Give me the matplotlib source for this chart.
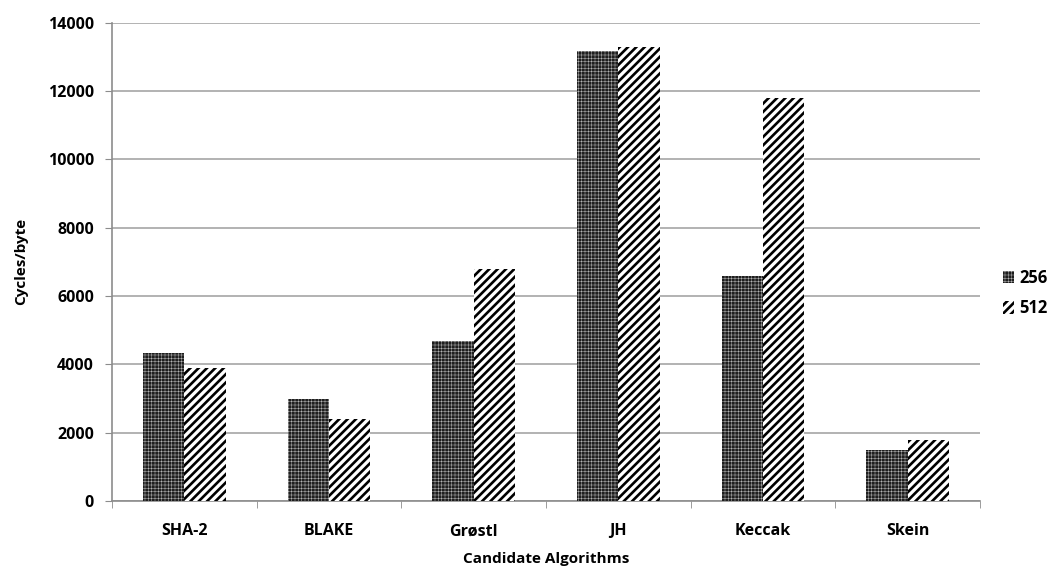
import matplotlib
matplotlib.use('Agg')
import matplotlib.pyplot as plt
import numpy as np
from matplotlib.patches import Patch

algorithms = ['SHA-2', 'BLAKE', 'Grøstl', 'JH', 'Keccak', 'Skein']
cycles_256 = [4330, 2990, 4680, 13170, 6600, 1490]
cycles_512 = [3890, 2400, 6800, 13290, 11790, 1800]
y_ticks = [0, 2000, 4000, 6000, 8000, 10000, 12000, 14000]

plt.rcParams['font.family'] = ['Open Sans', 'DejaVu Sans']
plt.rcParams['font.weight'] = 'bold'

fig = plt.figure(figsize=(10.64, 5.69), dpi=100)
ax = fig.add_axes([0.1053, 0.1195, 0.8158, 0.8405])

x = np.arange(len(algorithms))
w = 0.285

dot_style = dict(facecolor='#1e1e1e', edgecolor='#d0d0d0', hatch='+++++', linewidth=0)
stripe_style = dict(facecolor='white', edgecolor='black', hatch='////', linewidth=0)
dot_hlw, stripe_hlw = 0.3, 1.9


def set_hlw(patches, lw):
    for p in patches:
        if hasattr(p, 'set_hatch_linewidth'):
            p.set_hatch_linewidth(lw)


# dark dotted bars for 256
b1 = ax.bar(x - w / 2, cycles_256, w, zorder=3, **dot_style)
set_hlw(b1, dot_hlw)

# diagonal striped bars for 512
b2 = ax.bar(x + w / 2, cycles_512, w, zorder=3, **stripe_style)
set_hlw(b2, stripe_hlw)

ax.set_xlim(-0.5, len(algorithms) - 0.5)
ax.set_ylim(0, 14000)
ax.set_yticks(y_ticks)
ax.set_yticklabels([str(t) for t in y_ticks], fontsize=11.5, fontweight='bold')
ax.set_xticks(x)
ax.set_xticklabels(algorithms, fontsize=11.5, fontweight='bold')
ax.tick_params(axis='x', length=0, pad=16)
ax.set_xticks(np.arange(len(algorithms) + 1) - 0.5, minor=True)
ax.tick_params(axis='x', which='minor', length=5, color='#8c8c8c', direction='out')
ax.tick_params(axis='y', length=5, color='#8c8c8c', pad=8)

ax.yaxis.grid(True, color='#a6a6a6', linewidth=1.2)
ax.set_axisbelow(True)
for s in ['top', 'right']:
    ax.spines[s].set_visible(False)
for s in ['left', 'bottom']:
    ax.spines[s].set_color('#8c8c8c')
    ax.spines[s].set_linewidth(1.2)

ax.set_xlabel('Candidate Algorithms', fontsize=11, fontweight='bold', labelpad=9)
ax.set_ylabel('Cycles/byte', fontsize=11, fontweight='bold', labelpad=14)

handles = [Patch(label='256', **dot_style), Patch(label='512', **stripe_style)]
leg = ax.legend(handles=handles, loc='center left', bbox_to_anchor=(1.026, 0.435),
                borderaxespad=0, borderpad=0, frameon=False,
                handlelength=0.7, handleheight=0.8, handletextpad=0.3,
                labelspacing=0.75, prop={'size': 12, 'weight': 'bold'})
set_hlw(leg.legend_handles[:1], dot_hlw)
set_hlw(leg.legend_handles[1:], stripe_hlw)

fig.savefig('out.png', dpi=100, facecolor='white')
